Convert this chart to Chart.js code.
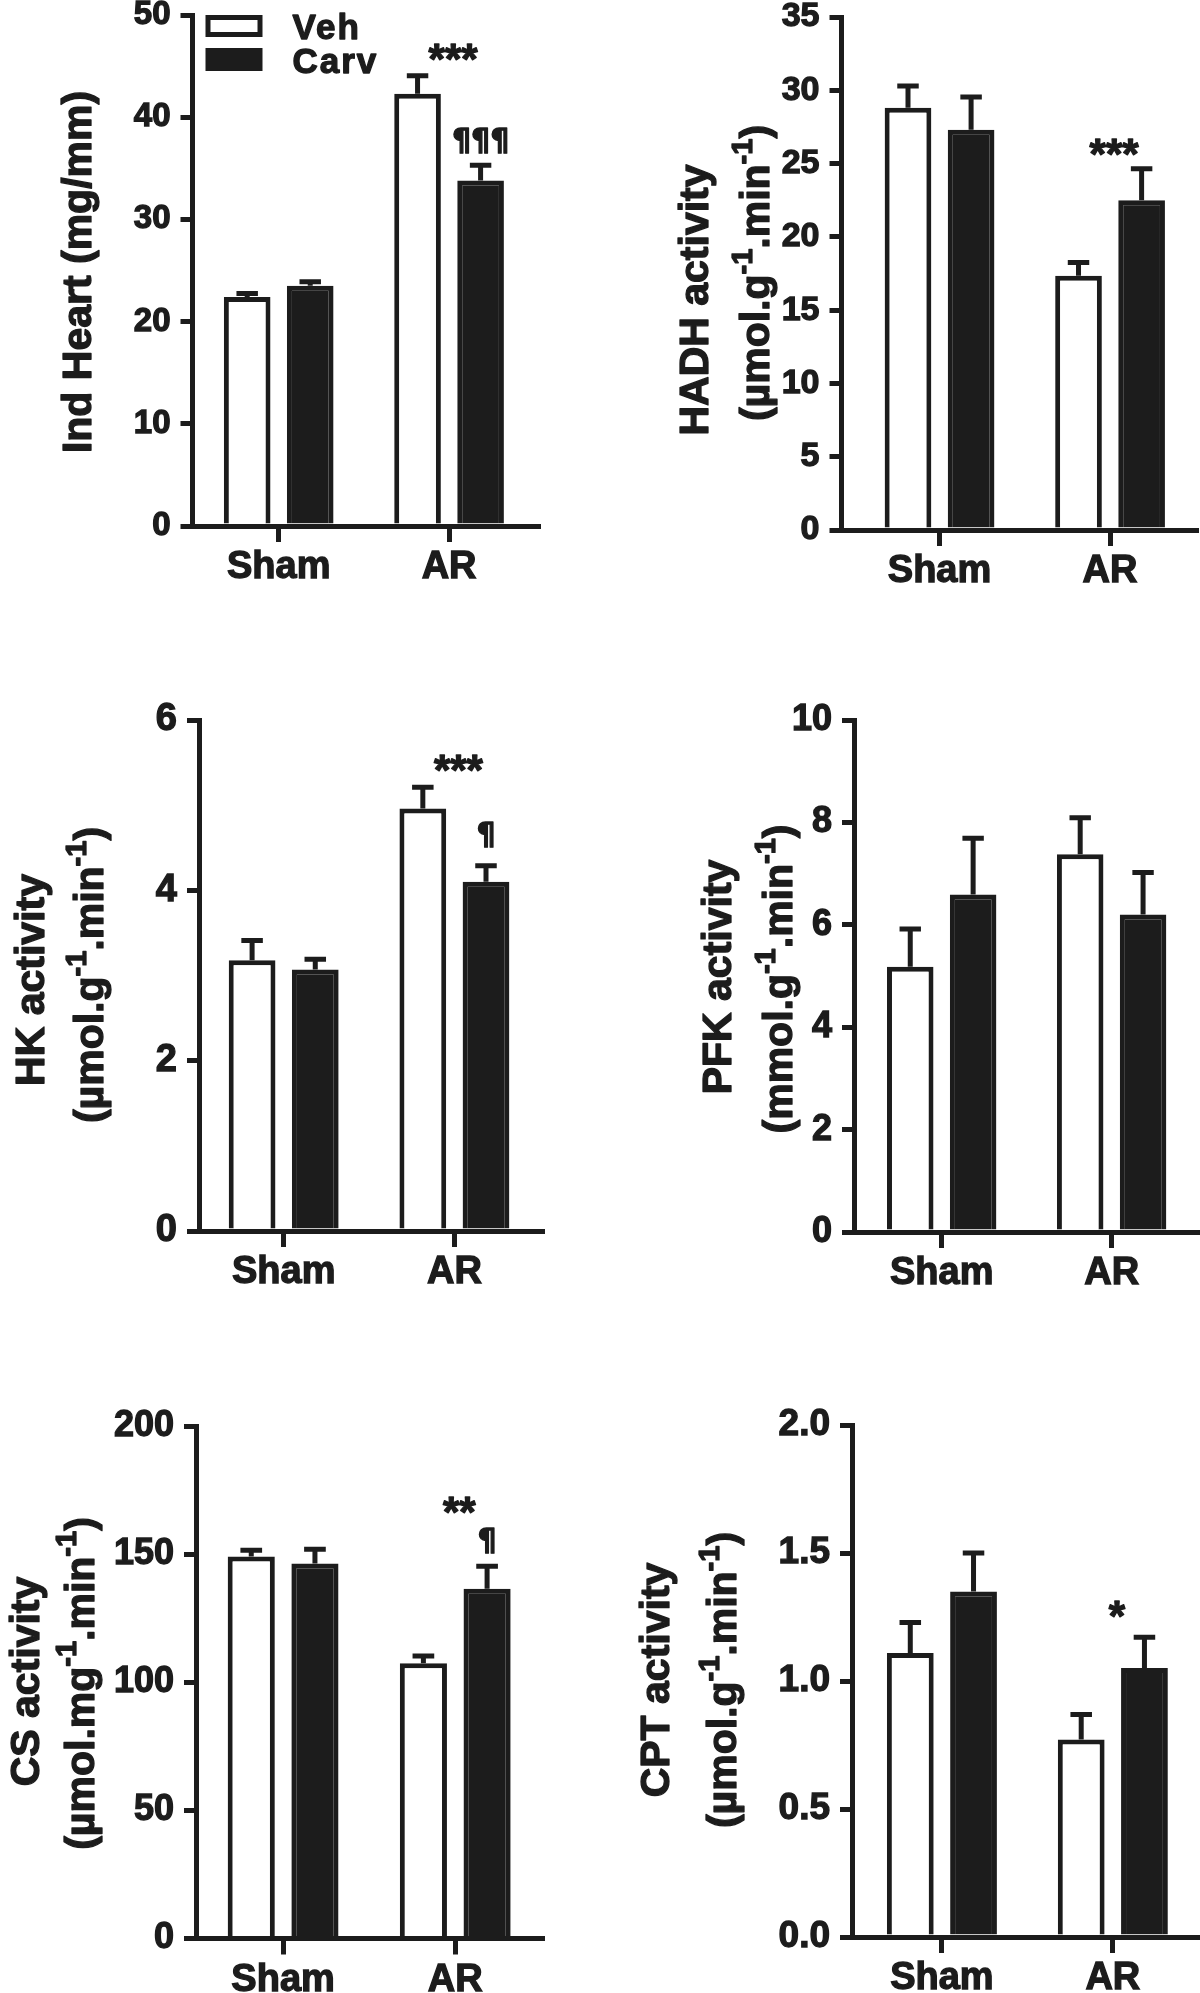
<!DOCTYPE html>
<html>
<head>
<meta charset="utf-8">
<script src="https://cdn.jsdelivr.net/npm/chart.js@4.4.0/dist/chart.umd.min.js"></script>
<style>
  html, body { margin: 0; padding: 0; background: #fff; overflow: hidden; }
  body { width: 1200px; height: 1993px; position: relative; }
  .panel { position: absolute; }
</style>
</head>
<body>
<script>
// Data
const categories = ['Sham', 'AR'];
const groups = ['Veh', 'Carv'];

// Ind Heart (mg/mm)
const heartVeh = [22.4, 42.3];
const heartVehErr = [0.35, 1.75];
const heartCarv = [23.5, 33.8];
const heartCarvErr = [0.4, 1.5];
const heartTicks = [0, 10, 20, 30, 40, 50];
const heartNotes = [['***', 1, -1, 46.4], ['¶¶¶', 1, 1, 37.7]]; // text, category, bar (-1 = group), y

// HADH activity
const hadhVeh = [28.8, 17.35];
const hadhVehErr = [1.5, 0.9];
const hadhCarv = [27.3, 22.5];
const hadhCarvErr = [2.25, 2.15];
const hadhTicks = [0, 5, 10, 15, 20, 25, 30, 35];
const hadhNotes = [['***', 1, -1, 26.1]];

// HK activity
const hkVeh = [3.18, 4.96];
const hkVehErr = [0.23, 0.25];
const hkCarv = [3.07, 4.10];
const hkCarvErr = [0.12, 0.19];
const hkTicks = [0, 2, 4, 6];
const hkNotes = [['***', 1, -1, 5.5], ['¶', 1, 1, 4.65]];

// PFK activity
const pfkVeh = [5.18, 7.38];
const pfkVehErr = [0.74, 0.71];
const pfkCarv = [6.59, 6.2];
const pfkCarvErr = [1.1, 0.82];
const pfkTicks = [0, 2, 4, 6, 8, 10];
const pfkNotes = [];

// CS activity
const csVeh = [149.1, 107.4];
const csVehErr = [2.4, 2.8];
const csCarv = [146.3, 136.5];
const csCarvErr = [5.6, 8.8];
const csTicks = [0, 50, 100, 150, 200];
const csNotes = [['**', 1, -1, 169.3], ['¶', 1, 1, 155.1]];

// CPT activity
const cptVeh = [1.109, 0.771];
const cptVehErr = [0.12, 0.098];
const cptCarv = [1.35, 1.051];
const cptCarvErr = [0.15, 0.12];
const cptTicks = [0, 0.5, 1.0, 1.5, 2.0];
const cptNotes = [['*', 1, -1, 1.28]];

const INK = '#1c1c1c';
const LW = 5;
const FAMILY = "'Liberation Sans', Arial, sans-serif";
const HEAVY = 1.3; // extra stroke on glyphs, the print is heavier than plain bold

const UNIT_G = [['(µmol.g'], ['-1', true], ['.min'], ['-1', true], [')']];

// page layout of each panel: canvas box, plot area, titles
const panels = [
  { box: [0, -40, 600, 640], area: [192.5, 15, 538, 526], xRange: [0.494, 2.522], tickSize: 33,
    veh: heartVeh, vehErr: heartVehErr, carv: heartCarv, carvErr: heartCarvErr, ticks: heartTicks, notes: heartNotes,
    title: [{ parts: [['Ind Heart (mg/mm)']], x: 91, cy: 272 }], legend: true },
  { box: [600, -40, 600, 640], area: [841.5, 17, 1196, 530], xRange: [0.425, 2.504], tickSize: 34,
    veh: hadhVeh, vehErr: hadhVehErr, carv: hadhCarv, carvErr: hadhCarvErr, ticks: hadhTicks, notes: hadhNotes,
    title: [{ parts: [['HADH activity']], x: 707.5, cy: 300 }, { parts: UNIT_G, x: 769, cy: 273 }] },
  { box: [0, 660, 600, 640], area: [199, 720, 542, 1231], xRange: [0.504, 2.513], tickSize: 38,
    veh: hkVeh, vehErr: hkVehErr, carv: hkCarv, carvErr: hkCarvErr, ticks: hkTicks, notes: hkNotes,
    title: [{ parts: [['HK activity']], x: 44, cy: 980 }, { parts: UNIT_G, x: 103, cy: 975 }] },
  { box: [600, 660, 600, 640], area: [854, 720, 1200, 1232], xRange: [0.484, 2.52], tickSize: 36,
    veh: pfkVeh, vehErr: pfkVehErr, carv: pfkCarv, carvErr: pfkCarvErr, ticks: pfkTicks, notes: pfkNotes,
    title: [{ parts: [['PFK activity']], x: 731, cy: 977 },
            { parts: [['(mmol.g'], ['-1', true], ['.min'], ['-1', true], [')']], x: 792, cy: 979 }] },
  { box: [0, 1360, 600, 633], area: [196, 1426, 542, 1938.5], xRange: [0.494, 2.504], tickSize: 36,
    veh: csVeh, vehErr: csVehErr, carv: csCarv, carvErr: csCarvErr, ticks: csTicks, notes: csNotes,
    title: [{ parts: [['CS activity']], x: 38.5, cy: 1681.5 },
            { parts: [['(µmol.mg'], ['-1', true], ['.min'], ['-1', true], [')']], x: 93.5, cy: 1683.5 }] },
  { box: [600, 1360, 600, 633], area: [852, 1425, 1200, 1937], xRange: [0.474, 2.51], tickSize: 37, decimals: 1,
    veh: cptVeh, vehErr: cptVehErr, carv: cptCarv, carvErr: cptCarvErr, ticks: cptTicks, notes: cptNotes,
    title: [{ parts: [['CPT activity']], x: 669, cy: 1680 }, { parts: UNIT_G, x: 736, cy: 1680 }] }
];

function heavyText(ctx, text, x, y) {
  ctx.fillText(text, x, y);
  ctx.lineWidth = HEAVY;
  ctx.strokeStyle = INK;
  ctx.lineJoin = 'round';
  ctx.strokeText(text, x, y);
}

// upward error bars with a cap
const errorBarPlugin = {
  id: 'errorBars',
  afterDatasetsDraw(chart) {
    const ctx = chart.ctx;
    const y = chart.scales.y;
    chart.data.datasets.forEach((ds, di) => {
      chart.getDatasetMeta(di).data.forEach((bar, i) => {
        const top = y.getPixelForValue(ds.data[i].y + ds.errors[i]);
        const half = bar.width * 0.23;
        ctx.save();
        ctx.strokeStyle = INK;
        ctx.lineWidth = LW;
        ctx.beginPath();
        ctx.moveTo(bar.x, bar.y);
        ctx.lineTo(bar.x, top);
        ctx.moveTo(bar.x - half, top);
        ctx.lineTo(bar.x + half, top);
        ctx.stroke();
        ctx.restore();
      });
    });
  }
};

// significance marks (*** / ¶)
const notesPlugin = {
  id: 'notes',
  afterDatasetsDraw(chart, args, opts) {
    const ctx = chart.ctx;
    (opts.items || []).forEach(([text, cat, bar, val]) => {
      const x = bar < 0
        ? chart.scales.x.getPixelForValue(cat + 1) + 4
        : chart.getDatasetMeta(bar).data[cat].x;
      const y = chart.scales.y.getPixelForValue(val);
      ctx.save();
      ctx.font = text.includes('*')
        ? `bold 42px ${FAMILY}`
        : `bold 30px 'DejaVu Sans', sans-serif`;
      ctx.fillStyle = INK;
      ctx.textAlign = 'center';
      ctx.textBaseline = 'alphabetic';
      const m = ctx.measureText(text);
      heavyText(ctx, text, x, y + (m.actualBoundingBoxAscent - m.actualBoundingBoxDescent) / 2);
      ctx.restore();
    });
  }
};

// rotated y titles with superscripts
const titlePlugin = {
  id: 'axisTitle',
  afterDraw(chart, args, opts) {
    const ctx = chart.ctx;
    const size = 41;
    opts.lines.forEach(line => {
      const parts = line.parts.map(([t, sup]) => ({ t, sup, font: `bold ${sup ? Math.round(size * 0.7) : size}px ${FAMILY}` }));
      let total = 0;
      parts.forEach(p => { ctx.font = p.font; p.w = ctx.measureText(p.t).width; total += p.w; });
      ctx.save();
      ctx.translate(line.x - opts.ox, line.cy - opts.oy);
      ctx.rotate(-Math.PI / 2);
      ctx.fillStyle = INK;
      ctx.textAlign = 'left';
      ctx.textBaseline = 'alphabetic';
      let cx = -total / 2;
      parts.forEach(p => {
        ctx.font = p.font;
        heavyText(ctx, p.t, cx, p.sup ? -size * 0.42 : 0);
        cx += p.w;
      });
      ctx.restore();
    });
  }
};

// Veh / Carv key in the first panel
const keyPlugin = {
  id: 'key',
  afterDraw(chart) {
    const ctx = chart.ctx;
    const a = chart.chartArea;
    const x0 = a.left + 13, w = 57;
    ctx.save();
    ctx.lineWidth = LW;
    ctx.strokeStyle = INK;
    ctx.fillStyle = INK;
    ctx.strokeRect(x0 + LW / 2, a.top + LW / 2, w - LW, 22 - LW);
    ctx.fillRect(x0, a.top + 33, w, 23);
    ctx.font = `bold 35px ${FAMILY}`;
    ctx.letterSpacing = '2px';
    ctx.textBaseline = 'alphabetic';
    heavyText(ctx, chart.data.datasets[0].label, a.left + 100, a.top + 24);
    heavyText(ctx, chart.data.datasets[1].label, a.left + 100, a.top + 58);
    ctx.restore();
  }
};

function buildPanel(p) {
  const [bx, by, bw, bh] = p.box;
  const [al, at, ar, ab] = p.area;
  const wrap = document.createElement('div');
  wrap.className = 'panel';
  wrap.style.left = bx + 'px';
  wrap.style.top = by + 'px';
  wrap.style.width = bw + 'px';
  wrap.style.height = bh + 'px';
  const canvas = document.createElement('canvas');
  wrap.appendChild(canvas);
  document.body.appendChild(wrap);

  const tickFont = { family: FAMILY, weight: 'bold', size: p.tickSize };
  const step = p.ticks[1] - p.ticks[0];

  const plugins = [errorBarPlugin, notesPlugin, titlePlugin];
  if (p.legend) plugins.push(keyPlugin);

  new Chart(canvas, {
    type: 'bar',
    data: {
      datasets: [
        { label: groups[0], data: p.veh.map((v, i) => ({ x: i + 1, y: v })), errors: p.vehErr,
          backgroundColor: '#ffffff', borderColor: INK, borderWidth: LW, borderSkipped: 'start' },
        { label: groups[1], data: p.carv.map((v, i) => ({ x: i + 1, y: v })), errors: p.carvErr,
          backgroundColor: INK, borderColor: INK, borderWidth: LW, borderSkipped: 'start' }
      ]
    },
    options: {
      responsive: true,
      maintainAspectRatio: false,
      animation: false,
      layout: { padding: { left: 0, top: at - by, right: bx + bw - ar, bottom: 0 } },
      datasets: { bar: { categoryPercentage: 0.74, barPercentage: 0.74 } },
      plugins: {
        legend: { display: false },
        tooltip: { enabled: false },
        notes: { items: p.notes },
        axisTitle: { lines: p.title, ox: bx, oy: by }
      },
      scales: {
        x: {
          type: 'linear',
          offset: false,
          min: p.xRange[0],
          max: p.xRange[1],
          afterFit: s => { s.height = by + bh - ab; },
          afterBuildTicks: s => { s.ticks = categories.map((c, i) => ({ value: i + 1 })); },
          ticks: { callback: (v, i) => categories[i], font: { family: FAMILY, weight: 'bold', size: 38 },
                   color: INK, textStrokeColor: INK, textStrokeWidth: HEAVY,
                   padding: 3, maxRotation: 0, autoSkip: false },
          grid: { offset: false, drawOnChartArea: false, tickLength: 16, lineWidth: LW, color: INK },
          border: { display: true, width: LW, color: INK, z: 1 }
        },
        y: {
          min: p.ticks[0],
          max: p.ticks[p.ticks.length - 1],
          afterFit: s => { s.width = al - bx; },
          ticks: { stepSize: step, font: tickFont, color: INK, padding: 10,
                   textStrokeColor: INK, textStrokeWidth: HEAVY,
                   callback: v => p.decimals ? v.toFixed(p.decimals) : String(v) },
          grid: { drawOnChartArea: false, tickLength: 12, lineWidth: LW, color: INK },
          border: { display: true, width: LW, color: INK, z: 1 }
        }
      }
    },
    plugins: plugins
  });
}

panels.forEach(buildPanel);
</script>
</body>
</html>
